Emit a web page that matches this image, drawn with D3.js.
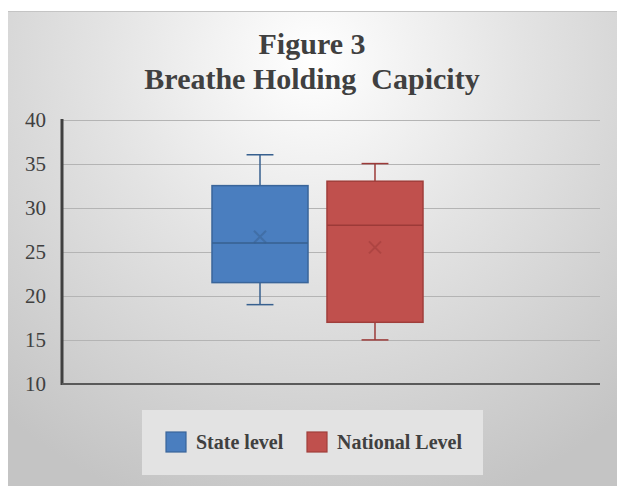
<!DOCTYPE html>
<html>
<head>
<meta charset="utf-8">
<script src="https://cdn.jsdelivr.net/npm/d3@7"></script>
<style>
  html, body { margin: 0; padding: 0; background: #ffffff; }
  svg { display: block; }
  text { white-space: pre; }
</style>
</head>
<body>
<svg id="chart" width="617" height="486"></svg>
<script>
// Box-plot summary for each group
const series   = ["State level", "National Level"];
const minVals  = [19, 15];
const q1Vals   = [21.5, 17];
const medians  = [26, 28];
const q3Vals   = [32.5, 33];
const maxVals  = [36, 35];
const means    = [26.7, 25.5];
const yTicks   = [10, 15, 20, 25, 30, 35, 40];
const titleLines = ["Figure 3", "Breathe Holding  Capicity"];

const fills   = ["#4a7ebf", "#c0504d"];
const strokes = ["#3a659a", "#a03e3b"];
const darks   = ["#37608f", "#9c3a38"];

const serif = "'Liberation Serif', 'Times New Roman', serif";
const svg = d3.select("#chart");
const W = 617, H = 486;

// Chart area background: soft radial gradient, light at top centre
const defs = svg.append("defs");
const grad = defs.append("radialGradient")
  .attr("id", "bg").attr("gradientUnits", "userSpaceOnUse")
  .attr("cx", 312).attr("cy", 60).attr("r", 470);
grad.append("stop").attr("offset", "0%").attr("stop-color", "#ffffff");
grad.append("stop").attr("offset", "45%").attr("stop-color", "#e3e3e3");
grad.append("stop").attr("offset", "100%").attr("stop-color", "#c4c4c4");

svg.append("rect").attr("x", 8).attr("y", 11).attr("width", W - 8).attr("height", H - 11)
  .attr("fill", "url(#bg)");
svg.append("line").attr("x1", 8).attr("x2", W).attr("y1", 11.5).attr("y2", 11.5)
  .attr("stroke", "#c4c4c4").attr("stroke-width", 1);

const plot = { left: 62, right: 600, top: 119.5, bottom: 384 };

const y = d3.scaleLinear().domain([10, 40]).range([plot.bottom, plot.top]);
const x = d3.scaleBand().domain(series).range([202.5, 432.5])
  .paddingInner(0.165).paddingOuter(0.0826);

// Title
const title = svg.append("g").attr("font-family", serif)
  .attr("font-weight", "bold").attr("fill", "#404040").attr("text-anchor", "middle");
title.append("text").attr("x", 312).attr("y", 54).attr("font-size", 30).text(titleLines[0]);
title.append("text").attr("x", 312).attr("y", 89).attr("font-size", 30).text(titleLines[1]);

// Horizontal gridlines
svg.append("g").selectAll("line").data(yTicks.filter(t => t !== 10)).join("line")
  .attr("x1", plot.left).attr("x2", plot.right)
  .attr("y1", d => Math.round(y(d)) + 0.5).attr("y2", d => Math.round(y(d)) + 0.5)
  .attr("stroke", "#b4b4b4").attr("stroke-width", 1);

// Y axis
const yAxis = svg.append("g").attr("transform", `translate(${plot.left},0)`)
  .call(d3.axisLeft(y).tickValues(yTicks).tickSize(0).tickPadding(16));
yAxis.select(".domain").remove();
yAxis.selectAll("text")
  .attr("font-family", serif)
  .attr("font-size", 21).attr("fill", "#404040");
svg.append("line").attr("x1", plot.left).attr("x2", plot.left)
  .attr("y1", plot.top - 0.5).attr("y2", plot.bottom + 1)
  .attr("stroke", "#404040").attr("stroke-width", 3);
// X axis baseline
svg.append("line").attr("x1", plot.left).attr("x2", plot.right)
  .attr("y1", plot.bottom).attr("y2", plot.bottom)
  .attr("stroke", "#5a5a5a").attr("stroke-width", 2);

// Boxes
const rows = series.map((s, i) => ({
  s, i, min: minVals[i], q1: q1Vals[i], med: medians[i], q3: q3Vals[i], max: maxVals[i], mean: means[i]
}));
const boxes = svg.append("g").selectAll("g").data(rows).join("g");
const cx = d => x(d.s) + x.bandwidth() / 2;
const capHalf = x.bandwidth() * 0.14;

// whiskers
boxes.append("line").attr("x1", cx).attr("x2", cx)
  .attr("y1", d => y(d.max)).attr("y2", d => y(d.q3))
  .attr("stroke", d => darks[d.i]).attr("stroke-width", 1.5);
boxes.append("line").attr("x1", cx).attr("x2", cx)
  .attr("y1", d => y(d.q1)).attr("y2", d => y(d.min))
  .attr("stroke", d => darks[d.i]).attr("stroke-width", 1.5);
boxes.append("line").attr("x1", d => cx(d) - capHalf).attr("x2", d => cx(d) + capHalf)
  .attr("y1", d => y(d.max)).attr("y2", d => y(d.max))
  .attr("stroke", d => darks[d.i]).attr("stroke-width", 1.5);
boxes.append("line").attr("x1", d => cx(d) - capHalf).attr("x2", d => cx(d) + capHalf)
  .attr("y1", d => y(d.min)).attr("y2", d => y(d.min))
  .attr("stroke", d => darks[d.i]).attr("stroke-width", 1.5);

// box body
boxes.append("rect")
  .attr("x", d => x(d.s)).attr("width", x.bandwidth())
  .attr("y", d => y(d.q3)).attr("height", d => y(d.q1) - y(d.q3))
  .attr("fill", d => fills[d.i]).attr("stroke", d => strokes[d.i]).attr("stroke-width", 1.5);

// median
boxes.append("line").attr("x1", d => x(d.s)).attr("x2", d => x(d.s) + x.bandwidth())
  .attr("y1", d => y(d.med)).attr("y2", d => y(d.med))
  .attr("stroke", d => darks[d.i]).attr("stroke-width", 1.5);

// mean marker (x)
const m = 6;
boxes.append("path")
  .attr("d", d => {
    const px = cx(d), py = y(d.mean);
    return `M${px - m},${py - m}L${px + m},${py + m}M${px - m},${py + m}L${px + m},${py - m}`;
  })
  .attr("stroke", d => darks[d.i]).attr("stroke-width", 2).attr("opacity", 0.5).attr("fill", "none");

// Legend
const lg = svg.append("g");
lg.append("rect").attr("x", 142).attr("y", 410).attr("width", 341).attr("height", 65)
  .attr("fill", "#e3e3e3");
const legX = [166, 307];
const legItems = lg.selectAll("g").data(series).join("g")
  .attr("transform", (d, i) => `translate(${legX[i]},432)`);
legItems.append("rect").attr("width", 20).attr("height", 20)
  .attr("fill", (d, i) => fills[i]).attr("stroke", (d, i) => strokes[i]).attr("stroke-width", 1.2);
legItems.append("text").attr("x", 30).attr("y", 17)
  .attr("font-family", serif)
  .attr("font-weight", "bold").attr("font-size", 20).attr("fill", "#404040")
  .text(d => d);
</script>
</body>
</html>
